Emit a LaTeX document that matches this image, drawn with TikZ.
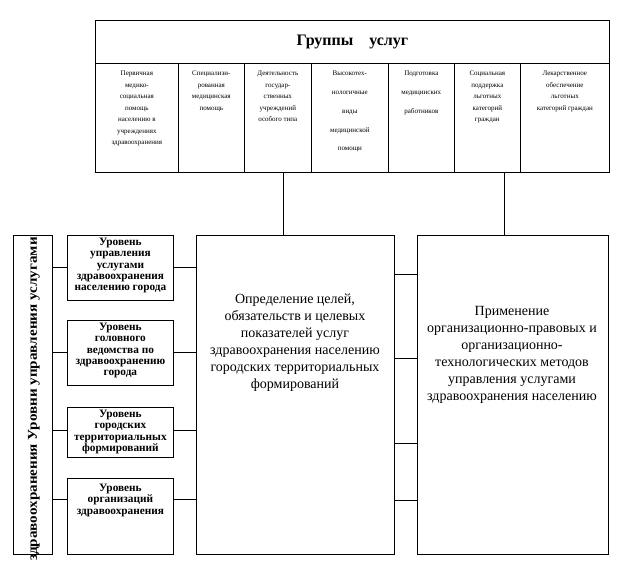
\documentclass[tikz,border=0pt]{standalone}
\usepackage{fontspec}
\setmainfont{Liberation Serif}
\usetikzlibrary{positioning}

\begin{document}
\begin{tikzpicture}[x=1pt, y=-1pt,
    box/.style={draw, line width=0.8pt, anchor=north west, inner sep=0pt},
    cell/.style={draw, line width=0.7pt, anchor=north west, inner sep=0pt, minimum height=109pt},
    celltext/.style={anchor=north, align=center, inner sep=0pt, font=\fontsize{7}{11.5}\selectfont},
    lvltext/.style={anchor=north, align=center, inner sep=0pt, font=\bfseries\fontsize{11.3}{11.2}\selectfont},
    bigtext/.style={align=center, inner sep=0pt, font=\fontsize{14}{17}\selectfont},
    link/.style={line width=0.8pt}]
    \useasboundingbox (0,0) rectangle (620,575);
    % Groups of services
    \node[box, minimum width=514pt, minimum height=43pt] (title) at (95,20) {\bfseries\fontsize{16}{18}\selectfont Группы\quad услуг};
    \node[cell, minimum width=83pt] (c1) at ( 95,63) {};
    \node[cell, minimum width=66pt] (c2) at (178,63) {};
    \node[cell, minimum width=67pt] (c3) at (244,63) {};
    \node[cell, minimum width=77pt] (c4) at (311,63) {};
    \node[cell, minimum width=66pt] (c5) at (388,63) {};
    \node[cell, minimum width=66pt] (c6) at (454,63) {};
    \node[cell, minimum width=89pt] (c7) at (520,63) {};
    \node[celltext] (t1) at ([yshift=-8pt]c1.north) {Первичная\\медико-\\социальная\\помощь\\населению в\\учреждениях\\здравоохранения};
    \node[celltext] (t2) at ([yshift=-8pt]c2.north) {Специализи-\\рованная\\медицинская\\помощь};
    \node[celltext] (t3) at ([yshift=-8pt]c3.north) {Деятельность\\государ-\\ственных\\учреждений\\особого типа};
    \node[celltext, font=\fontsize{7}{18.8}\selectfont] (t4) at ([yshift=-8pt]c4.north) {Высокотех-\\нологичные\\виды\\медицинской\\помощи};
    \node[celltext, font=\fontsize{7}{18.8}\selectfont] (t5) at ([yshift=-8pt]c5.north) {Подготовка\\медицинских\\работников};
    \node[celltext] (t6) at ([yshift=-8pt]c6.north) {Социальная\\поддержка\\льготных\\категорий\\граждан};
    \node[celltext] (t7) at ([yshift=-8pt]c7.north) {Лекарственное\\обеспечение\\льготных\\категорий граждан};
    % Levels of management
    \node[box, minimum width=39pt, minimum height=319pt] (lbl) at (13,235) {};
    \node[rotate=90, anchor=east, inner sep=0pt, font=\bfseries\fontsize{13.5}{15}\selectfont] (lbltxt) at (34,237) {\scalebox{1.12}[1]{здравоохранения Уровни управления услугами}};
    \node[box, minimum width=106pt, minimum height=65pt] (lvl1) at (67,235) {};
    \node[box, minimum width=106pt, minimum height=65pt] (lvl2) at (67,320) {};
    \node[box, minimum width=106pt, minimum height=50pt] (lvl3) at (67,407) {};
    \node[box, minimum width=106pt, minimum height=76pt] (lvl4) at (67,478) {};
    \node[lvltext] (l1) at ([yshift=-3pt]lvl1.north) {Уровень\\управления\\услугами\\здравоохранения\\населению города};
    \node[lvltext] (l2) at ([yshift=-3pt]lvl2.north) {Уровень\\головного\\ведомства по\\здравоохранению\\города};
    \node[lvltext] (l3) at ([yshift=-3pt]lvl3.north) {Уровень\\городских\\территориальных\\формирований};
    \node[lvltext] (l4) at ([yshift=-6pt]lvl4.north) {Уровень\\организаций\\здравоохранения};
    % Goals and methods
    \node[box, minimum width=198pt, minimum height=319pt] (mid) at (196,235) {};
    \node[box, minimum width=191pt, minimum height=319pt] (meth) at (417,235) {};
    \node[bigtext] (midtxt) at (295,343) {Определение целей,\\обязательств и целевых\\показателей услуг\\здравоохранения населению\\городских территориальных\\формирований};
    \node[bigtext] (methtxt) at (512,355) {Применение\\организационно-правовых и\\организационно-\\технологических методов\\управления услугами\\здравоохранения населению};
    % Connectors
    \coordinate (g1) at (283,0);
    \coordinate (g2) at (504,0);
    \draw[link] (c3.south -| g1) -- (mid.north -| g1);
    \draw[link] (c6.south -| g2) -- (meth.north -| g2);
    \coordinate (h1) at (0,267);
    \coordinate (h2) at (0,352);
    \coordinate (h3) at (0,430);
    \coordinate (h4) at (0,499);
    \draw[link] (lbl.east |- h1) -- (lvl1.west |- h1);
    \draw[link] (lbl.east |- h2) -- (lvl2.west |- h2);
    \draw[link] (lbl.east |- h3) -- (lvl3.west |- h3);
    \draw[link] (lbl.east |- h4) -- (lvl4.west |- h4);
    \draw[link] (lvl1.east |- h1) -- (mid.west |- h1);
    \draw[link] (lvl2.east |- h2) -- (mid.west |- h2);
    \draw[link] (lvl3.east |- h3) -- (mid.west |- h3);
    \draw[link] (lvl4.east |- h4) -- (mid.west |- h4);
    \coordinate (r1) at (0,274);
    \coordinate (r2) at (0,358);
    \coordinate (r3) at (0,443);
    \coordinate (r4) at (0,500);
    \draw[link] (mid.east |- r1) -- (meth.west |- r1);
    \draw[link] (mid.east |- r2) -- (meth.west |- r2);
    \draw[link] (mid.east |- r3) -- (meth.west |- r3);
    \draw[link] (mid.east |- r4) -- (meth.west |- r4);
\end{tikzpicture}
\end{document}
